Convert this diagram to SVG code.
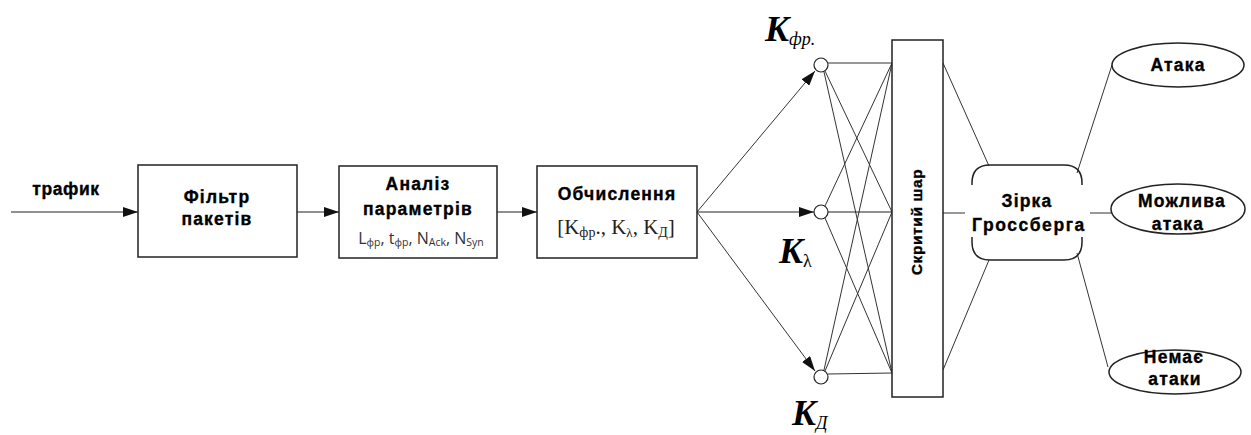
<svg xmlns="http://www.w3.org/2000/svg" width="1251" height="435" viewBox="0 0 1251 435">
  <style>
    .box { fill: #fff; stroke: #222; stroke-width: 1.5; }
    .ln { fill: none; stroke: #222; stroke-width: 1.2; }
    .thin { fill: none; stroke: #333; stroke-width: 1; }
    .lbl { font-family: "Liberation Sans", Arial, sans-serif; font-weight: bold; font-size: 17.5px; letter-spacing: 1.2px; fill: #000; stroke: #000; stroke-width: 0.35; text-anchor: middle; }
    .par { font-family: "Open Sans", "Liberation Sans", sans-serif; font-size: 16px; fill: #333; text-anchor: middle; }
    .sub { font-size: 10.5px; fill: #333; }
    .formula { font-family: "Liberation Serif", "Times New Roman", serif; font-size: 21px; fill: #222; text-anchor: middle; }
    .k { font-family: "Liberation Serif", "Times New Roman", serif; font-weight: bold; font-style: italic; font-size: 36px; fill: #000; }
    .ks { font-size: 18px; font-weight: normal; }
  </style>
  <defs>
    <marker id="arr" viewBox="0 0 15 10" refX="15" refY="5" markerWidth="15" markerHeight="10" markerUnits="userSpaceOnUse" orient="auto">
      <path d="M0,0 L15,5 L0,10 Z" fill="#111"/>
    </marker>
  </defs>
  <rect width="1251" height="435" fill="#fff"/>

  <!-- connectors -->
  <g id="connectors">
    <line class="ln" x1="11" y1="212" x2="138" y2="212" marker-end="url(#arr)"/>
    <line class="ln" x1="297" y1="212" x2="339" y2="212" marker-end="url(#arr)"/>
    <line class="ln" x1="497" y1="212" x2="537" y2="212" marker-end="url(#arr)"/>
    <!-- fan-out to input neurons -->
    <line class="thin" x1="697" y1="212" x2="815" y2="71" marker-end="url(#arr)"/>
    <line class="ln" x1="697" y1="212" x2="814" y2="212" marker-end="url(#arr)"/>
    <line class="thin" x1="697" y1="212" x2="815" y2="371" marker-end="url(#arr)"/>
    <!-- input neurons to hidden layer -->
    <line class="thin" x1="828" y1="63" x2="892" y2="63"/>
    <line class="thin" x1="825" y1="71" x2="892" y2="212"/>
    <line class="thin" x1="824" y1="72" x2="892" y2="373"/>
    <line class="thin" x1="825" y1="206" x2="892" y2="63"/>
    <line class="ln" x1="828" y1="212" x2="892" y2="212"/>
    <line class="thin" x1="825" y1="218" x2="892" y2="373"/>
    <line class="thin" x1="824" y1="370" x2="892" y2="63"/>
    <line class="thin" x1="825" y1="371" x2="892" y2="212"/>
    <line class="thin" x1="828" y1="374" x2="892" y2="373"/>
    <!-- hidden layer to Grossberg star -->
    <line class="thin" x1="943" y1="63" x2="989" y2="166"/>
    <line class="thin" x1="943" y1="213" x2="965" y2="213"/>
    <line class="thin" x1="943" y1="370" x2="989" y2="260"/>
    <!-- Grossberg star to outputs -->
    <line class="thin" x1="1077" y1="173" x2="1112" y2="65"/>
    <line class="thin" x1="1090" y1="213" x2="1111" y2="213"/>
    <line class="thin" x1="1077" y1="253" x2="1108" y2="367"/>
  </g>

  <text x="66" y="195" class="lbl" style="letter-spacing:0.6px">трафик</text>

  <g id="filter">
    <rect class="box" x="138" y="165" width="159" height="92"/>
    <text x="217" y="203" class="lbl">Фільтр</text>
    <text x="217" y="225" class="lbl">пакетів</text>
  </g>

  <g id="analysis">
    <rect class="box" x="339" y="166" width="158" height="92"/>
    <text x="418" y="190" class="lbl">Аналіз</text>
    <text x="418" y="215" class="lbl">параметрів</text>
    <text x="421" y="244" class="par">L<tspan class="sub" dy="2">фр</tspan><tspan dy="-2">, t</tspan><tspan class="sub" dy="2">фр</tspan><tspan dy="-2">, N</tspan><tspan class="sub" dy="2">Ack</tspan><tspan dy="-2">, N</tspan><tspan class="sub" dy="2">Syn</tspan></text>
  </g>

  <g id="compute">
    <rect class="box" x="537" y="166" width="160" height="92"/>
    <text x="617" y="200" class="lbl">Обчислення</text>
    <text x="616" y="234" class="formula">[K<tspan style="font-size:14px" dy="3">фр</tspan><tspan dy="-3">., K</tspan><tspan style="font-size:13px" dy="3">λ</tspan><tspan dy="-3">, K</tspan><tspan style="font-size:14px" dy="3">Д</tspan><tspan dy="-3">]</tspan></text>
  </g>

  <g id="neuron-kfr">
    <circle cx="821" cy="65" r="7" fill="#fff" stroke="#222" stroke-width="1.2"/>
    <text x="765" y="41" class="k">K<tspan class="ks" dy="4">фр.</tspan></text>
  </g>
  <g id="neuron-klambda">
    <circle cx="821" cy="212" r="7" fill="#fff" stroke="#222" stroke-width="1.2"/>
    <text x="779" y="263" class="k">K<tspan class="ks" dy="4" style="font-style:normal">λ</tspan></text>
  </g>
  <g id="neuron-kd">
    <circle cx="821" cy="377" r="7" fill="#fff" stroke="#222" stroke-width="1.2"/>
    <text x="792" y="425" class="k">K<tspan class="ks" dy="4">Д</tspan></text>
  </g>

  <g id="hidden-layer">
    <rect class="box" x="892" y="40" width="51" height="357"/>
    <text class="lbl" transform="translate(922,222) rotate(-90)" style="font-size:15.5px;letter-spacing:0.6px">Скритий шар</text>
  </g>

  <g id="grossberg">
    <path class="box" d="M972,185 L972,183 Q972,165 990,165 L1064,165 Q1082,165 1082,183 L1082,185 M1082,237 L1082,242 Q1082,260 1064,260 L990,260 Q972,260 972,242 L972,237" style="fill:none"/>
    <text x="1027" y="207" class="lbl">Зірка</text>
    <text x="1029" y="231" class="lbl" style="letter-spacing:1.6px">Гроссберга</text>
  </g>

  <g id="out-attack">
    <ellipse cx="1178" cy="65" rx="66" ry="22" class="box"/>
    <text x="1178" y="71" class="lbl">Атака</text>
  </g>
  <g id="out-possible">
    <ellipse cx="1178" cy="209" rx="67" ry="25" class="box"/>
    <text x="1182" y="207" class="lbl">Можлива</text>
    <text x="1178" y="230" class="lbl">атака</text>
  </g>
  <g id="out-none">
    <ellipse cx="1175" cy="372" rx="66" ry="22" class="box"/>
    <text x="1174" y="363" class="lbl">Немає</text>
    <text x="1175" y="385" class="lbl">атаки</text>
  </g>
</svg>
